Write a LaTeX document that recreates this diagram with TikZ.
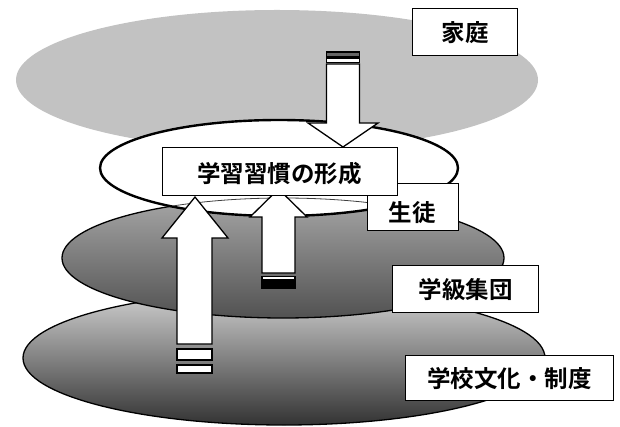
\documentclass[tikz,border=0pt]{standalone}
\usepackage{fontspec}
\setmainfont{Noto Sans CJK JP}[BoldFont={Noto Sans CJK JP Bold}]
\begin{document}
\begin{tikzpicture}[x=1pt,y=-1pt,
  lbl/.style={draw=black, fill=white, line width=1.3pt, inner sep=0pt, anchor=north west},
  txt/.style={inner sep=0pt, font=\fontsize{23.5}{23.5}\selectfont\bfseries},
  barrow/.style={draw=black, fill=white, line width=1.3pt, line join=miter},
  band/.style={draw=black, line width=1.1pt},
  rim/.style={draw=black, line width=1.3pt}]
\useasboundingbox (0,0) rectangle (620,427);

% family layer (light dotted)
\fill[black!24] (277,80) ellipse [x radius=261pt, y radius=70pt];
% school culture layer
\shade[top color=black!18, bottom color=black!80] (284,358) ellipse [x radius=261pt, y radius=67pt];
\draw[rim] (284,358) ellipse [x radius=261pt, y radius=67pt];
% class group layer
\shade[top color=black!35, bottom color=black!68] (283,258) ellipse [x radius=221pt, y radius=60pt];
\draw[rim] (283,258) ellipse [x radius=221pt, y radius=60pt];
% student layer (white)
\draw[fill=white, line width=2.4pt] (279,168) ellipse [x radius=179pt, y radius=48pt];
\begin{scope}
  \clip (279,168) ellipse [x radius=178pt, y radius=47pt];
  \draw[line width=0.8pt, black!75] (283,258) ellipse [x radius=221pt, y radius=60pt];
\end{scope}

% down arrow from family
\draw[band, fill=black!60] (326.5,52) rectangle (359.5,57);
\draw[band, fill=white] (326.5,58.5) rectangle (359.5,62.5);
\draw[barrow] (326.5,64) -- (326.5,123) -- (308,123) -- (343,147) -- (378,123)
  -- (359.5,123) -- (359.5,64) -- cycle;

% big up arrow from school culture
\draw[barrow] (177,344) -- (177,238) -- (162,238) -- (195,197) -- (228,238)
  -- (212,238) -- (212,344) -- cycle;
\draw[band, fill=white] (177,349) rectangle (212,360);
\draw[band, fill=white] (177,365) rectangle (212,373);

% small up arrow from class group
\draw[barrow] (262,273) -- (262,217) -- (250,217) -- (278.5,189) -- (307,217)
  -- (295,217) -- (295,273) -- cycle;
\draw[band, fill=white] (262,276.5) rectangle (295,280);
\draw[band, fill=black] (262,282) rectangle (295,288);

% labels
\node[lbl, minimum width=105pt, minimum height=47pt] (katei) at (412,8) {};
\node[txt] at (katei.center) {家庭};
\node[lbl, minimum width=91pt, minimum height=47pt] (seito) at (367,183) {};
\node[txt] at (412,213) {生徒};
\node[lbl, minimum width=235pt, minimum height=48pt] (keisei) at (162,147) {};
\node[txt] at (279.5,174) {学習習慣の形成};
\node[lbl, minimum width=146pt, minimum height=47pt] (gakkyu) at (392,265) {};
\node[txt] at (gakkyu.center) {学級集団};
\node[lbl, minimum width=208pt, minimum height=45pt] (gakko) at (405,355) {};
\node[txt] at (gakko.center) {学校文化・制度};
\end{tikzpicture}
\end{document}
